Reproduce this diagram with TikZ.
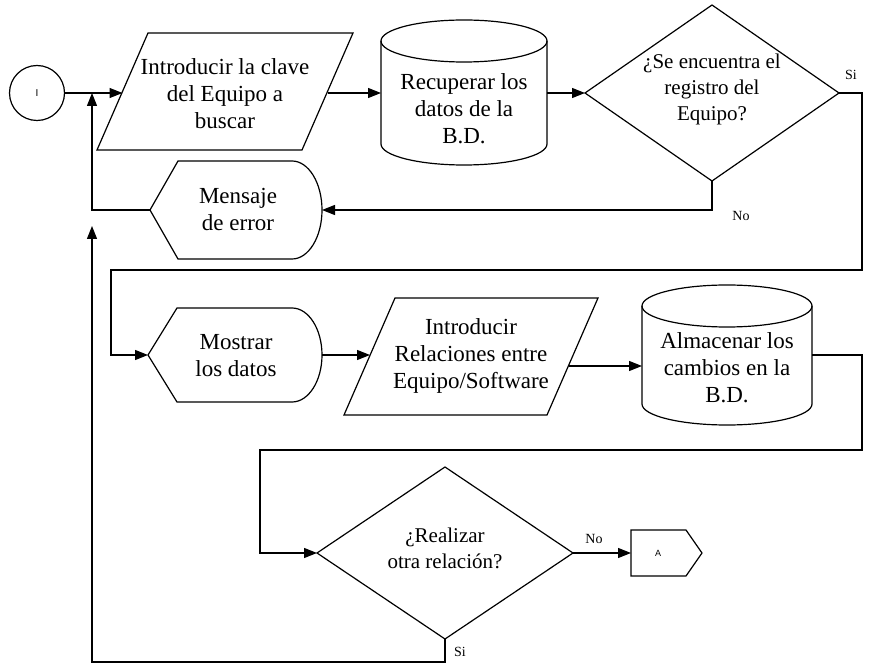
\documentclass[tikz,border=0pt]{standalone}
\usepackage{fontspec}
\setmainfont{Liberation Serif}
\newfontfamily\tagsans{Liberation Sans}
\usetikzlibrary{arrows.meta,shapes.geometric}
\begin{document}
\begin{tikzpicture}[x=1pt,y=-1pt,
  line width=1.2pt,
  every node/.style={inner sep=0pt, outer sep=0pt},
  flow/.style={-{Triangle[length=13pt,width=10pt]}},
  boxtext/.style={align=center, font=\fontsize{23}{27}\selectfont},
  asktext/.style={align=center, font=\fontsize{21}{26}\selectfont},
  tag/.style={font=\fontsize{14}{16}\selectfont},
  decision/.style={draw, diamond, minimum width=254pt, minimum height=176pt},
]
\useasboundingbox (0,0) rectangle (876,668);

% start terminal
\node[draw, circle, minimum size=55pt] (start) at (37,93) {\tagsans\fontsize{10}{12}\selectfont I};

% input: key of the equipment
\draw (148,33) -- (353,33) -- (302,150) -- (97,150) -- cycle;
\node[boxtext] (in1) at (225,94) {Introducir la clave\\del Equipo a\\buscar};
\coordinate (in1w) at (122.5,93);
\coordinate (in1e) at (327.5,93);

% database read
\draw (464,41) ellipse [x radius=83pt, y radius=21pt];
\draw (381,41) -- (381,144) arc[start angle=180, end angle=360, x radius=83pt, y radius=21pt] -- (547,41);
\node[minimum width=166pt, minimum height=40pt] (db1) at (464,93) {};
\node[boxtext] (db1t) at (464,109) {Recuperar los\\datos de la\\B.D.};

% decision: record found?
\node[decision] (q1) at (712,93) {};
\node[asktext] (q1t) at (712,89) {¿Se encuentra el\\registro del\\Equipo?};

% display: error message
\draw (150,210) -- (178,161) -- (292,161) arc[start angle=90, end angle=-90, x radius=30pt, y radius=49pt] -- (178,259) -- cycle;
\node[minimum width=172pt, minimum height=98pt] (err) at (236,210) {};
\node[boxtext] (errt) at (238,209) {Mensaje\\de error};

% display: show data
\draw (148,355) -- (177,308) -- (292,308) arc[start angle=90, end angle=-90, x radius=30pt, y radius=47pt] -- (177,402) -- cycle;
\node[minimum width=174pt, minimum height=94pt] (show) at (235,355) {};
\node[boxtext] (showt) at (236,356) {Mostrar\\los datos};

% input: relations
\draw (395,298) -- (598,298) -- (547,415) -- (344,415) -- cycle;
\node[boxtext] (in2) at (471,356) {Introducir\\Relaciones entre\\Equipo/Software};
\coordinate (in2w) at (370,355);
\coordinate (in2e) at (569,366);

% database write
\draw (727,306) ellipse [x radius=85pt, y radius=21pt];
\draw (642,306) -- (642,404) arc[start angle=180, end angle=360, x radius=85pt, y radius=21pt] -- (812,306);
\node[boxtext] (db2) at (727,368) {Almacenar los\\cambios en la\\B.D.};
\coordinate (db2in) at (642,366);
\coordinate (db2out) at (812,355);

% decision: another relation?
\node[decision, minimum width=256pt, minimum height=172pt] (q2) at (445,553) {};
\node[asktext] (q2t) at (445,548) {¿Realizar\\otra relación?};

% off-page connector
\draw (631,530) -- (686,530) -- (702,553) -- (686,576) -- (631,576) -- cycle;
\node[minimum width=71pt, minimum height=46pt] (A) at (666.5,553) {};
\node[font=\tagsans\fontsize{9}{11}\selectfont] (At) at (658,553) {A};

% junctions on the left return line
\coordinate (j1) at (92,93);
\coordinate (j2) at (92,226);

% connectors
\draw[flow] (start) -- (in1w);
\draw[flow] (in1e) -- (db1.west);
\draw[flow] (db1.east) -- (q1.west);
\draw[flow] (q1.south) |- (err.east);
\draw[flow] (err.west) -| (j1);
\draw[flow] (q1.east) -| (862,270) -| (111,355) -- (show.west);
\draw[flow] (show.east) -- (in2w);
\draw[flow] (in2e) -- (db2in);
\draw[flow] (db2out) -| (862,450) -| (260,553) -- (q2.west);
\draw[flow] (q2.east) -- (A.west);
\draw[flow] (q2.south) |- (92,662) -- (j2);

% branch labels
\node[tag] (si1) at (851,75) {Si};
\node[tag] (no1) at (741,216) {No};
\node[tag] (no2) at (594,539) {No};
\node[tag] (si2) at (460,652) {Si};
\end{tikzpicture}
\end{document}
